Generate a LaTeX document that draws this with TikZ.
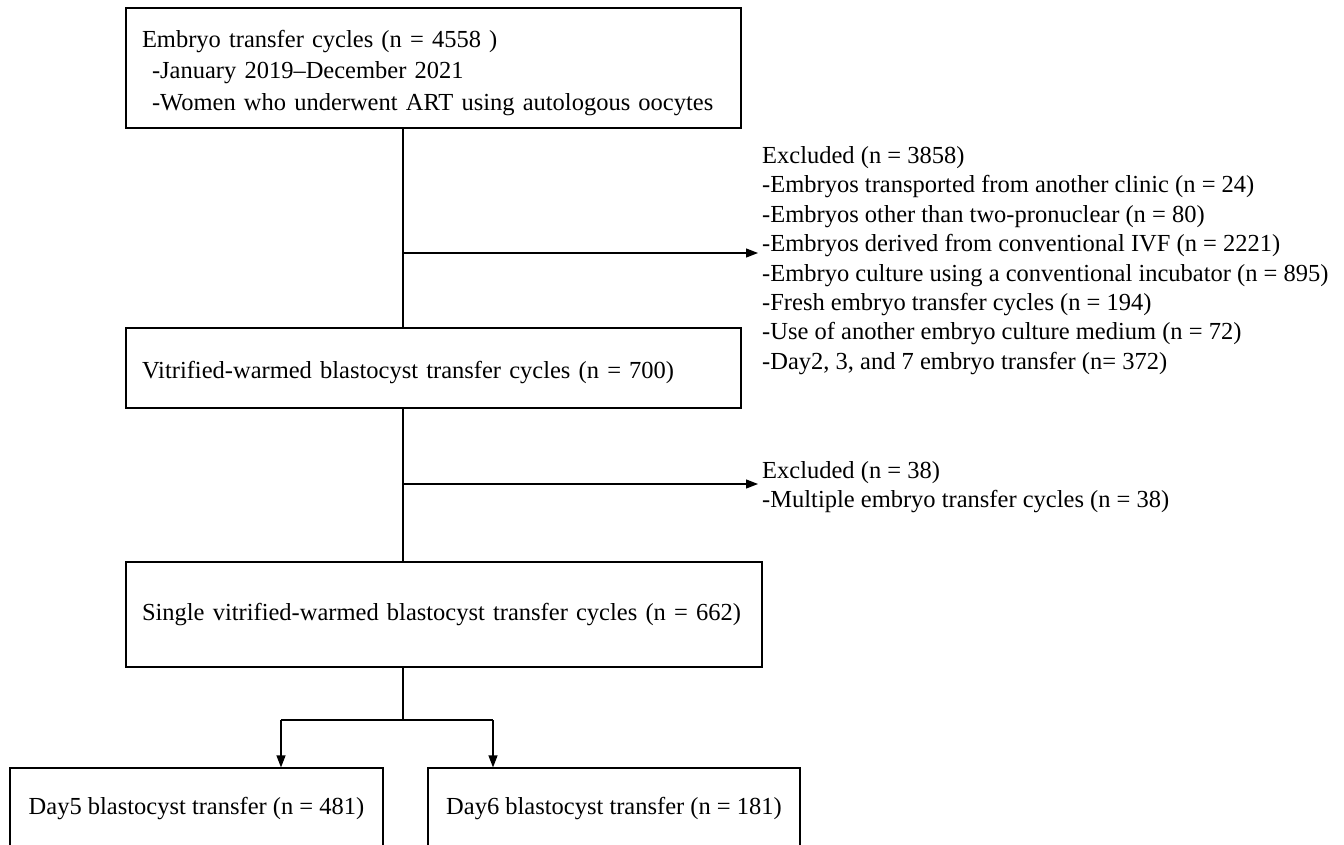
\documentclass[tikz,border=0pt]{standalone}
\usepackage{fontspec}
\setmainfont{Liberation Serif}
\usetikzlibrary{positioning, arrows.meta}
\tikzstyle{stageBox}=[draw=black, line width=1.2pt, inner xsep=16pt, align=left,
  font=\fontsize{24.5}{31.5}\selectfont]
\tikzstyle{exclText}=[inner sep=4pt, align=left, anchor=west,
  font=\fontsize{24.5}{29.4}\selectfont]
\tikzstyle{flowLine}=[line width=1.2pt, draw=black]
\tikzstyle{arrow}=[-{Triangle[length=12pt, width=9pt]}, line width=1.2pt, draw=black]
\newcommand{\sub}[1]{\hspace*{10pt}#1}
\newcommand{\lowr}{\rule{0pt}{27pt}}

\begin{document}
\begin{tikzpicture}[x=1pt, y=-1pt]
      \useasboundingbox (0,0) rectangle (1344,844);

      \node[stageBox, minimum width=615pt, minimum height=120pt, text width=583pt]
        (cycles) at (433.5,68) {\lowr Embryo transfer cycles (n = 4558 )\\
        \sub{-January 2019--December 2021}\\
        \sub{-Women who underwent ART using autologous oocytes}};
      \node[stageBox, minimum width=615pt, minimum height=80pt, text width=583pt]
        (vitrified) at (433.5,368) {\lowr Vitrified-warmed blastocyst transfer cycles (n = 700)};
      \node[stageBox, minimum width=636pt, minimum height=105pt, text width=604pt]
        (single) at (444,614.5) {Single vitrified-warmed blastocyst transfer cycles (n = 662)};
      \node[stageBox, minimum width=373pt, minimum height=82pt, align=center]
        (dayFive) at (196.5,809) {Day5 blastocyst transfer (n = 481)};
      \node[stageBox, minimum width=372pt, minimum height=82pt, align=center]
        (daySix) at (614,809) {Day6 blastocyst transfer (n = 181)};

      \node[exclText] (exclFirst) at (758,260.5) {Excluded (n = 3858)\\
        -Embryos transported from another clinic (n = 24)\\
        -Embryos other than two-pronuclear (n = 80)\\
        -Embryos derived from conventional IVF (n = 2221)\\
        -Embryo culture using a conventional incubator (n = 895)\\
        -Fresh embryo transfer cycles (n = 194)\\
        -Use of another embryo culture medium (n = 72)\\
        -Day2, 3, and 7 embryo transfer (n= 372)};
      \node[exclText] (exclSecond) at (758,487) {Excluded (n = 38)\\
        -Multiple embryo transfer cycles (n = 38)};

      \coordinate (jFirst) at (403,253);
      \coordinate (jSecond) at (403,484);
      \coordinate (split) at (403,720);
      \coordinate (splitL) at (281,720);
      \coordinate (splitR) at (493,720);

      \draw[flowLine] (cycles.south -| jFirst) -- (vitrified.north -| jFirst);
      \draw[flowLine] (vitrified.south -| jSecond) -- (single.north -| jSecond);
      \draw[arrow] (jFirst) -- (jFirst -| exclFirst.west);
      \draw[arrow] (jSecond) -- (jSecond -| exclSecond.west);

      \draw[flowLine] (single.south -| split) -- (split);
      \draw[flowLine] (splitL) -- (splitR);
      \draw[arrow] (splitL) -- (splitL |- dayFive.north);
      \draw[arrow] (splitR) -- (splitR |- daySix.north);
    \end{tikzpicture}
\end{document}
